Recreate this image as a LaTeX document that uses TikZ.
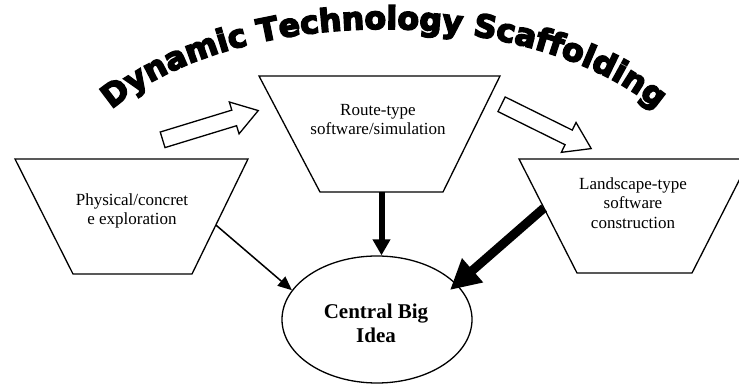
\documentclass[tikz,border=0pt]{standalone}
\usepackage{fontspec}
\setmainfont{Liberation Serif}
\newfontfamily\titlefam{DejaVu Sans Bold}[FakeBold=5]
\usetikzlibrary{shapes.geometric,shapes.arrows,arrows.meta,decorations.text,calc}
\begin{document}
\begin{tikzpicture}[x=1pt,y=1pt,
  trap/.style={draw, line width=1.3pt, line join=miter},
  lbl/.style={align=center, font=\fontsize{17}{19.5}\selectfont, anchor=base, inner sep=0pt},
  blockarrow/.style={draw, line width=1.3pt, fill=white, single arrow, single arrow tip angle=67, single arrow head extend=8.5pt, inner xsep=0pt, inner ysep=7.5pt, minimum height=100pt, anchor=tail},
  conn/.style={line width=1.5pt, -{Triangle[length=14pt,width=12pt]}}]
\useasboundingbox (0,0) rectangle (739,385);
% title
\path[decorate, decoration={text along path, text align=center,
  text={|\titlefam\fontsize{31.5}{31.5}\selectfont|Dynamic Technology Scaffolding}}]
  (384,185) ++(150:321pt and 171pt) arc[start angle=150, end angle=30, x radius=321pt, y radius=171pt];
% trapezoid corners
\coordinate (ptl) at (15,226);  \coordinate (ptr) at (248,226);
\coordinate (pbr) at (192,111); \coordinate (pbl) at (73,111);
\coordinate (rtl) at (259,309); \coordinate (rtr) at (500,309);
\coordinate (rbr) at (443,193); \coordinate (rbl) at (320,193);
\coordinate (ltl) at (519,226); \coordinate (ltr) at (750,226);
\coordinate (lbr) at (692,112); \coordinate (lbl) at (577,112);
\draw[trap] (ptl) -- (ptr) -- (pbr) -- (pbl) -- cycle;
\draw[trap] (rtl) -- (rtr) -- (rbr) -- (rbl) -- cycle;
\draw[trap] (ltl) -- (ltr) -- (lbr) -- (lbl) -- cycle;
\node[draw, ellipse, line width=1.3pt, minimum width=190pt, minimum height=127pt, inner sep=0pt] (idea) at (377,65.5) {};
% texts (base = last line)
\node[lbl] (physt) at (132,160) {Physical/concret\\e exploration};
\node[lbl] (routet) at (378,250) {Route-type\\software/simulation};
\node[lbl] (landt) at (633,156.7) {Landscape-type\\software\\construction};
\node[lbl, font=\bfseries\fontsize{21}{24.4}\selectfont] (ideat) at (376,42.3) {Central Big\\Idea};
% block arrows
\node[blockarrow, rotate=17] (ba1) at (162,245) {};
\node[blockarrow, rotate=-26.3] (ba2) at (501,281) {};
% connectors
\coordinate (pout) at ($(ptr)!0.574!(pbr)$);
\coordinate (rout) at ($(rbl)!0.5!(rbr)$);
\coordinate (lout) at ($(ltl)!0.43!(lbl)$);
\coordinate (rtip) at (450,95);
\draw[conn] (pout) -- (idea.161);
\draw[line width=6pt, -{Triangle[length=16pt,width=17pt]}] (rout) -- (rout |- idea.north);
\draw[line width=9pt, -{Triangle[length=30pt,width=30pt]}] (lout) -- (rtip);
\end{tikzpicture}
\end{document}
